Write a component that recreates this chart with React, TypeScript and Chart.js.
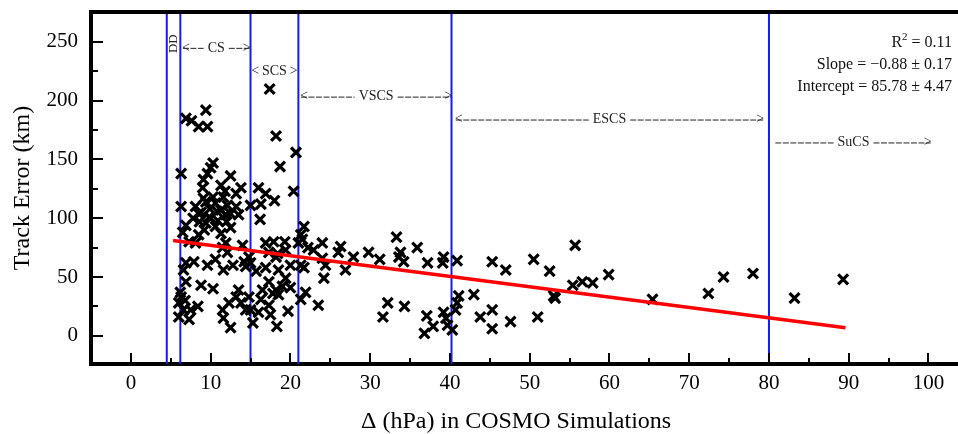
import React, { useEffect, useRef } from 'react';
import { Chart, registerables } from 'chart.js';

Chart.register(...registerables);

// ---------- data ----------
const deltaP = [
  17.4, 9.4, 6.9, 7.6, 8.5, 9.6, 18.2, 20.7, 18.7, 20.4, 16.0, 16.9, 18.0, 15.0, 16.3, 16.2,
  6.3, 10.3, 10.0, 9.6, 9.1, 12.5, 11.3, 9.0, 13.8, 13.2, 11.6, 9.1, 6.3, 8.1, 9.4, 10.6,
  12.1, 13.2, 8.8, 11.3, 12.5, 13.5, 9.8, 6.9, 6.5, 8.5, 9.4, 10.0, 10.6, 11.9, 12.5, 11.3,
  7.3, 8.5, 8.1, 11.9, 14.0, 12.1, 6.9, 7.9, 6.6, 9.6, 10.6, 11.6, 12.8, 14.2, 6.9, 8.8,
  10.3, 6.3, 6.0, 6.6, 8.4, 7.5, 6.0, 7.3, 13.5, 13.2, 12.3, 13.8, 11.5, 14.4, 11.6, 12.5,
  15.0, 15.3, 6.2, 6.8, 21.7, 21.3, 21.5, 16.9, 17.9, 19.3, 21.0, 24.0, 26.3, 27.9, 22.2, 22.9,
  19.4, 17.3, 18.2, 26.0, 14.8, 15.0, 15.7, 16.9, 18.5, 20.0, 21.3, 21.7, 24.0, 24.4, 26.9, 24.2,
  19.4, 17.3, 19.0, 18.2, 16.5, 14.8, 16.3, 17.8, 18.5, 17.3, 20.0, 21.9, 21.3, 23.5, 16.0, 17.5,
  19.7, 18.3, 29.8, 31.2, 33.3, 33.8, 33.6, 34.2, 35.9, 37.2, 39.2, 39.1, 40.9, 45.3, 47.0, 50.5,
  52.5, 55.7, 59.9, 55.4, 56.6, 57.9, 53.2, 32.2, 31.6, 34.3, 37.1, 37.9, 36.8, 39.2, 39.5, 39.7,
  40.3, 40.7, 40.9, 41.1, 43.0, 43.8, 45.3, 45.3, 47.6, 51.0, 65.4, 72.4, 74.3, 78.0, 83.2, 89.3,
  14.4, 11.5, 18.4, 10.3, 10.8, 9.9, 12.0, 10.9, 8.6, 9.2, 11.8, 7.8, 53.0,
];
const trackError = [
  210, 192, 185, 183, 178, 178, 170, 156, 144, 123, 126, 121, 115, 111, 112, 99,
  138, 147, 143, 138, 133, 136, 128, 126, 126, 121, 118, 117, 110, 110, 114, 113,
  111, 110, 105, 107, 104, 103, 101, 94, 88, 104, 96, 100, 93, 103, 92, 87,
  80, 86, 79, 79, 77, 71, 62, 63, 56, 60, 65, 56, 60, 63, 46, 43,
  40, 33, 28, 22, 25, 22, 16, 14, 39, 33, 28, 28, 22, 22, 15, 7,
  22, 11, 37, 30, 93, 86, 82, 79, 80, 80, 79, 79, 76, 67, 75, 73,
  73, 71, 67, 71, 67, 62, 55, 58, 56, 60, 60, 58, 66, 60, 56, 49,
  49, 46, 42, 39, 39, 33, 31, 36, 35, 26, 41, 37, 31, 26, 20, 18,
  21, 8, 71, 65, 84, 71, 67, 63, 75, 62, 67, 62, 64, 63, 56, 65,
  55, 77, 52, 43, 46, 45, 32, 28, 16, 25, 17, 8, 2, 20, 15, 9,
  5, 22, 28, 34, 35, 16, 22, 6, 12, 16, 31, 36, 50, 53, 32, 48,
  59, 75, 70, 118, 106, 108, 97, 98, 97, 90, 123, 100, 34,
];
const fitX = [5.3, 89.6];
const fitY = [81.1, 6.9];

const xTicks = [0, 10, 20, 30, 40, 50, 60, 70, 80, 90, 100];
const xMinorTicks = [5, 15, 25, 35, 45, 55, 65, 75, 85, 95];
const yTicks = [0, 50, 100, 150, 200, 250];
const yMinorTicks = [25, 75, 125, 175, 225];

const categoryBounds = [4.5, 6.2, 15.0, 21.0, 40.2, 80.0];
const categoryNames = ['CS', 'SCS', 'VSCS', 'ESCS', 'SuCS'];
const statLines = ['Slope = \u22120.88 \u00b1 0.17', 'Intercept = 85.78 \u00b1 4.47'];
const r2Value = '0.11';

// ---------- layout / style (not data) ----------
const SERIF = '"Liberation Serif", "Times New Roman", serif';
const categoryPlacement = [
  { from: 6.4, to: 15.0, y: 245, left: true, right: true },
  { from: 15.1, to: 20.9, y: 225, left: true, right: true },
  { from: 21.2, to: 40.3, y: 203.5, left: true, right: true },
  { from: 40.6, to: 79.4, y: 184, left: true, right: true },
  { from: 80.8, to: 100.4, y: 164.5, left: false, right: true },
];

function arrowLabel(ctx: CanvasRenderingContext2D, text: string, x0: number, x1: number, y: number, left: boolean, right: boolean) {
  ctx.font = `14px ${SERIF}`;
  ctx.fillStyle = '#222';
  ctx.strokeStyle = '#222';
  ctx.textBaseline = 'middle';
  const cx = (x0 + x1) / 2;
  const tw = ctx.measureText(text).width;
  ctx.textAlign = 'center';
  ctx.fillText(text, cx, y);
  const gap = 4;
  const arrowW = ctx.measureText('<').width;
  let lx0 = x0;
  let rx1 = x1;
  if (left) {
    ctx.textAlign = 'left';
    ctx.fillText('<', x0, y);
    lx0 = x0 + 1;
  }
  if (right) {
    ctx.textAlign = 'right';
    ctx.fillText('>', x1, y);
    rx1 = x1 - 1;
  }
  ctx.lineWidth = 1;
  ctx.setLineDash([6, 1.5]);
  const lEnd = cx - tw / 2 - gap;
  const rStart = cx + tw / 2 + gap;
  const minLen = left ? arrowW + 2 : 1;
  if (lEnd - lx0 > minLen) {
    ctx.beginPath();
    ctx.moveTo(lx0, y + 0.5);
    ctx.lineTo(lEnd, y + 0.5);
    ctx.stroke();
  }
  if (rx1 - rStart > arrowW + 2) {
    ctx.beginPath();
    ctx.moveTo(rStart, y + 0.5);
    ctx.lineTo(rx1, y + 0.5);
    ctx.stroke();
  }
  ctx.setLineDash([]);
}

const decorPlugin = {
  id: 'decor',
  beforeDatasetsDraw(chart: any) {
    const { ctx, chartArea: a, scales } = chart;
    const xs = scales.x;
    ctx.save();
    ctx.strokeStyle = 'rgb(24,24,255)';
    ctx.lineWidth = 2;
    for (const b of categoryBounds) {
      const px = xs.getPixelForValue(b);
      ctx.beginPath();
      ctx.moveTo(px, a.top);
      ctx.lineTo(px, a.bottom);
      ctx.stroke();
    }
    ctx.restore();
  },
  afterDraw(chart: any) {
    const { ctx, chartArea: a, scales } = chart;
    const xs = scales.x;
    const ys = scales.y;
    ctx.save();
    // top frame
    ctx.strokeStyle = '#000';
    ctx.lineWidth = 4;
    ctx.beginPath();
    ctx.moveTo(a.left - 2, a.top);
    ctx.lineTo(chart.width, a.top);
    ctx.stroke();
    // inward ticks
    ctx.lineWidth = 2;
    const seg = (x1: number, y1: number, x2: number, y2: number) => {
      ctx.beginPath();
      ctx.moveTo(x1, y1);
      ctx.lineTo(x2, y2);
      ctx.stroke();
    };
    for (const v of xTicks) { const p = Math.round(xs.getPixelForValue(v)); seg(p, a.bottom, p, a.bottom - 11); }
    for (const v of xMinorTicks) { const p = Math.round(xs.getPixelForValue(v)); seg(p, a.bottom, p, a.bottom - 6); }
    for (const v of yTicks) { const p = Math.round(ys.getPixelForValue(v)); seg(a.left, p, a.left + 12, p); }
    for (const v of yMinorTicks) { const p = Math.round(ys.getPixelForValue(v)); seg(a.left, p, a.left + 7, p); }

    // category labels
    categoryNames.forEach((name, i) => {
      const c = categoryPlacement[i];
      arrowLabel(ctx, name, xs.getPixelForValue(c.from), xs.getPixelForValue(c.to), ys.getPixelForValue(c.y), c.left, c.right);
    });
    // DD rotated
    ctx.save();
    ctx.font = `13px ${SERIF}`;
    ctx.fillStyle = '#222';
    ctx.textAlign = 'center';
    ctx.textBaseline = 'middle';
    ctx.translate(xs.getPixelForValue(5.4), ys.getPixelForValue(248.5));
    ctx.rotate(-Math.PI / 2);
    ctx.fillText('DD', 0, 0);
    ctx.restore();

    // statistics
    const rx = 952;
    ctx.fillStyle = '#111';
    ctx.textBaseline = 'middle';
    ctx.font = `16px ${SERIF}`;
    ctx.textAlign = 'right';
    const r2y = a.top + 31;
    const tail = ' = ' + r2Value;
    ctx.fillText(tail, rx, r2y);
    const tailW = ctx.measureText(tail).width;
    ctx.font = `11px ${SERIF}`;
    ctx.fillText('2', rx - tailW, r2y - 6);
    const twoW = ctx.measureText('2').width;
    ctx.font = `16px ${SERIF}`;
    ctx.fillText('R', rx - tailW - twoW, r2y);
    statLines.forEach((s, i) => ctx.fillText(s, rx, a.top + 53 + i * 22));

    // x-axis title
    ctx.font = `24px ${SERIF}`;
    ctx.fillStyle = '#000';
    ctx.textAlign = 'center';
    ctx.textBaseline = 'middle';
    ctx.fillText('\u0394 (hPa) in COSMO Simulations', xs.getPixelForValue(48.3), chart.height - 12);
    ctx.restore();
  },
};

export default function App() {
  const ref = useRef<HTMLCanvasElement | null>(null);
  useEffect(() => {
    if (!ref.current) return;
    const points = deltaP.map((x, i) => ({ x, y: trackError[i] }));
    const fit = fitX.map((x, i) => ({ x, y: fitY[i] }));
    const tickFont = { family: SERIF, size: 21 };
    const chart = new Chart(ref.current, {
      type: 'scatter',
      data: {
        datasets: [
          {
            type: 'line',
            data: fit,
            borderColor: 'rgb(255,0,0)',
            borderWidth: 3.5,
            pointRadius: 0,
            showLine: true,
            order: 1,
          } as any,
          {
            type: 'scatter',
            data: points,
            pointStyle: 'crossRot',
            pointRadius: 7,
            borderWidth: 3.2,
            borderColor: '#000',
            backgroundColor: '#000',
            order: 2,
          } as any,
        ],
      },
      options: {
        animation: false,
        responsive: false,
        maintainAspectRatio: false,
        devicePixelRatio: 1,
        layout: { autoPadding: false, padding: { top: 12, right: 0, left: 0, bottom: 0 } },
        plugins: { legend: { display: false }, tooltip: { enabled: false } },
        scales: {
          x: {
            type: 'linear',
            min: -5,
            max: 103.7,
            afterBuildTicks: (s: any) => { s.ticks = xTicks.map((v) => ({ value: v })); },
            afterFit: (s: any) => { s.height = 70; s.paddingLeft = 0; s.paddingRight = 0; },
            ticks: { font: tickFont, color: '#000', padding: 7, maxRotation: 0, autoSkip: false },
            grid: { display: false, drawTicks: false },
            border: { display: true, width: 4, color: '#000' },
            title: { display: false },
          },
          y: {
            type: 'linear',
            min: -24,
            max: 275.5,
            afterBuildTicks: (s: any) => { s.ticks = yTicks.map((v) => ({ value: v })); },
            afterFit: (s: any) => { s.width = 91; s.paddingTop = 0; s.paddingBottom = 0; },
            ticks: { font: tickFont, color: '#000', padding: 13, autoSkip: false },
            grid: { display: false, drawTicks: false },
            border: { display: true, width: 4, color: '#000' },
            title: {
              display: true,
              text: 'Track Error (km)',
              color: '#000',
              font: { family: SERIF, size: 24, lineHeight: 1 },
              padding: { top: 11, bottom: 0 },
            },
          },
        },
      } as any,
      plugins: [decorPlugin],
    });
    return () => chart.destroy();
  }, []);
  return (
    <div style={{ position: 'absolute', left: 0, top: 0, width: 958, height: 434, background: '#fff' }}>
      <canvas ref={ref} width={958} height={434} style={{ display: 'block' }} />
    </div>
  );
}
